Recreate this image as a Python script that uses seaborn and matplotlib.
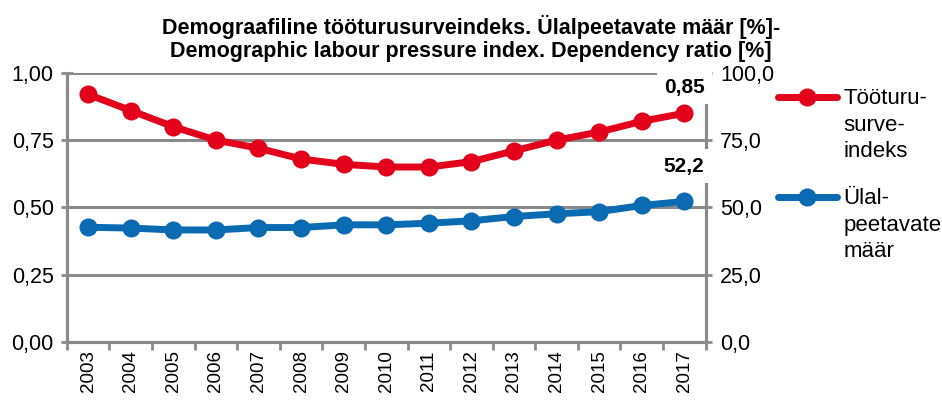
import pandas as pd
import seaborn as sns
import numpy as np
import matplotlib.pyplot as plt
from matplotlib.lines import Line2D
from matplotlib.ticker import FuncFormatter, FixedLocator

years = [str(y) for y in range(2003, 2018)]
surveindeks = [0.92, 0.86, 0.80, 0.75, 0.72, 0.68, 0.66, 0.65, 0.65, 0.67, 0.71, 0.75, 0.78, 0.82, 0.85]
ulalpeetavate = [42.6, 42.3, 41.6, 41.6, 42.5, 42.5, 43.5, 43.5, 44.1, 45.0, 46.6, 47.6, 48.4, 50.7, 52.2]
legend_labels = ['Tööturu-\nsurve-\nindeks', 'Ülal-\npeetavate\nmäär']

red = '#e2001a'
blue = '#0a6ab2'
grey = '#8a8a8a'
fam = ['Liberation Sans', 'DejaVu Sans']

sns.set_theme(style='white')
plt.rcParams['font.family'] = fam
plt.rcParams['text.color'] = 'black'
plt.rcParams['xtick.color'] = 'black'
plt.rcParams['ytick.color'] = 'black'

df = pd.DataFrame({'year': years, 'idx': surveindeks, 'dep': ulalpeetavate})
x = np.arange(len(years))

fig = plt.figure(figsize=(9.42, 4.05), dpi=100)
ax = fig.add_axes([0.071, 0.156, 0.678, 0.664])
ax2 = ax.twinx()

sns.lineplot(x=x, y=df['idx'], ax=ax, color=red, lw=5, marker='o', markersize=13,
             markeredgewidth=0, legend=False, zorder=5)
sns.lineplot(x=x, y=df['dep'], ax=ax2, color=blue, lw=5, marker='o', markersize=13,
             markeredgewidth=0, legend=False, zorder=5)

ax.set_xlim(-0.5, len(years) - 0.5)
ax.set_ylim(0, 1)
ax2.set_ylim(0, 100)
ax.set_xlabel('')
ax.set_ylabel('')
ax2.set_ylabel('')

ax.set_yticks([0, 0.25, 0.5, 0.75, 1.0])
ax2.set_yticks([0, 25, 50, 75, 100])
ax.yaxis.set_major_formatter(FuncFormatter(lambda v, p: f'{v:.2f}'.replace('.', ',')))
ax2.yaxis.set_major_formatter(FuncFormatter(lambda v, p: f'{v:.1f}'.replace('.', ',')))

ax.set_xticks(x)
ax.set_xticklabels(years, rotation=90, fontsize=13.5)
ax.xaxis.set_minor_locator(FixedLocator(np.arange(-0.5, len(years), 1)))
ax.tick_params(axis='x', which='major', length=0, pad=6)
ax.tick_params(axis='x', which='minor', length=6, width=2, color=grey, direction='out', bottom=True)
ax.tick_params(axis='y', length=9, width=2, color=grey, direction='inout', labelsize=15.5, left=True, pad=5)
ax2.tick_params(axis='y', length=9, width=2, color=grey, direction='inout', labelsize=15.5, right=True, pad=6)

ax.grid(axis='y', color=grey, lw=2.2)
ax.set_axisbelow(True)
for a in (ax, ax2):
    a.spines['top'].set_visible(False)
    for s in ('left', 'right', 'bottom'):
        a.spines[s].set_color(grey)
        a.spines[s].set_linewidth(2.2)
ax.set_zorder(2)
ax2.set_zorder(3)
ax.patch.set_visible(False)

ax2.annotate('0,85', (x[-1], surveindeks[-1] * 100), xytext=(0, 12), textcoords='offset points',
             ha='center', va='bottom', fontsize=15, fontweight='bold',
             bbox=dict(boxstyle='square,pad=0.35', fc='white', ec='none'), zorder=10)
ax2.annotate('52,2', (x[-1], ulalpeetavate[-1]), xytext=(0, 18.5), textcoords='offset points',
             ha='center', va='bottom', fontsize=15, fontweight='bold',
             bbox=dict(boxstyle='square,pad=0.35', fc='white', ec='none'), zorder=10)

fig.suptitle('Demograafiline tööturusurveindeks. Ülalpeetavate määr [%]-\n'
             'Demographic labour pressure index. Dependency ratio [%]',
             x=0.5, y=0.962, fontsize=15.5, fontweight='bold', linespacing=1.07,
             family=['Liberation Sans Narrow'] + fam)

# legend at the right: key next to the first line of each label
for lab, col, ky in zip(legend_labels, [red, blue], [0.7605, 0.5136]):
    fig.add_artist(Line2D([0.826, 0.857, 0.8885], [ky, ky, ky], transform=fig.transFigure,
                          color=col, lw=5, marker='o', markersize=13, markeredgewidth=0,
                          markevery=[1], solid_capstyle='round'))
    fig.text(0.895, ky + 0.0215, lab, ha='left', va='top', fontsize=16, linespacing=1.35)

fig.savefig('out.png', dpi=100)
